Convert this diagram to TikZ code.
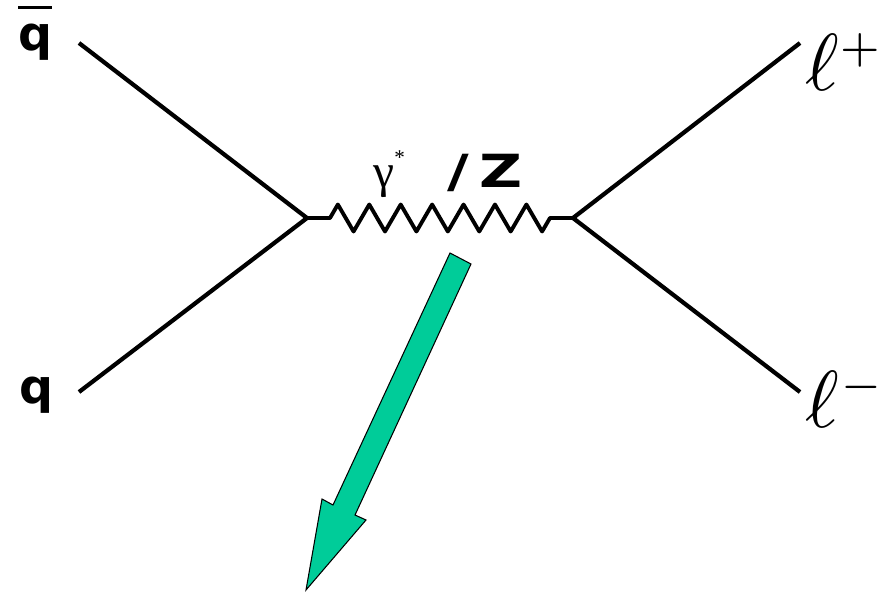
\documentclass[tikz,border=0pt]{standalone}
\usepackage{amsmath}
\usepackage{fontspec}
\newfontfamily\qfont{DejaVu Sans}
\newfontfamily\gfont{Liberation Serif}
\usetikzlibrary{positioning,calc,decorations.pathmorphing}
\definecolor{arrowgreen}{RGB}{0,204,153}

\begin{document}
\begin{tikzpicture}[x=0.02cm, y=-0.02cm, fermion/.style={line width=2.4pt}, boson/.style={line width=2.2pt, line join=round, decorate, decoration={zigzag, segment length=0.6286cm, amplitude=0.27cm, pre length=0.46cm, post length=0.46cm}}, quark/.style={font=\fontsize{27}{27}\selectfont\qfont\bfseries, inner sep=0pt, anchor=base west}, lepton/.style={inner sep=0pt, anchor=base west}, bigarrow/.style={fill=arrowgreen, draw=black, line width=0.6pt, line join=miter}]
        \useasboundingbox (0,0) rectangle (885,592);
        \coordinate (qbarend) at (79,43);
        \coordinate (qend) at (79,392);
        \coordinate (vin) at (307,218);
        \coordinate (vout) at (573,218);
        \coordinate (lpend) at (800,43);
        \coordinate (lmend) at (800,392);
        \node[quark] (qbar) at (18,50) {\vbox{\hrule height 1.8pt\kern 8pt\hbox{q}}};
        \node[quark] (q) at (19,403) {q};
        \node[lepton] (lplus) at (805,90) {\scalebox{4.6}{$\ell^{\scriptscriptstyle +}$}};
        \node[lepton] (lminus) at (805,427) {\scalebox{4.6}{$\ell^{\scriptscriptstyle -}$}};
        \node[inner sep=0pt, anchor=base west] (prop) at (373,187) {{\gfont\fontsize{27}{27}\selectfont γ\raisebox{13pt}{\fontsize{12}{12}\selectfont *}}\hspace{24pt}{\qfont\bfseries\fontsize{26}{26}\selectfont \scalebox{1.3}[1]{/}\hspace{6pt}\scalebox{1.3}[1]{Z}}};
        \draw[fermion] (qbarend) -- (vin);
        \draw[fermion] (qend) -- (vin);
        \draw[boson] (vin) -- (vout);
        \draw[fermion] (vout) -- (lpend);
        \draw[fermion] (vout) -- (lmend);
        \filldraw[bigarrow] (450,253) -- (471,264) -- (355,515) -- (366,520) -- (306,590) -- (322,499) -- (333,505) -- cycle;
    \end{tikzpicture}
\end{document}
